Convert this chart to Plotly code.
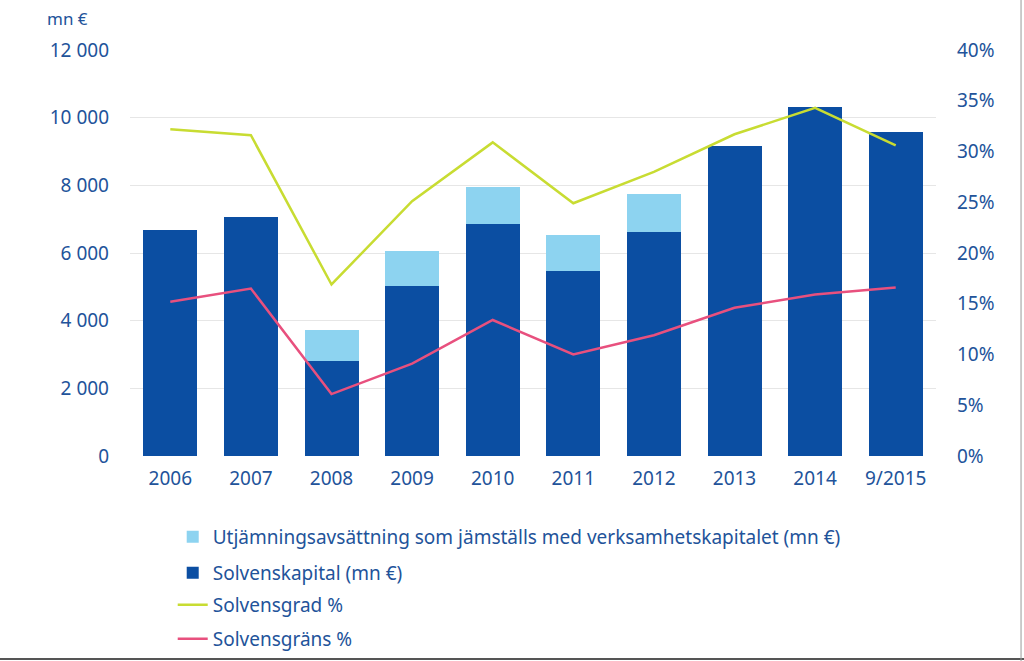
import plotly.graph_objects as go

categories = ["2006", "2007", "2008", "2009", "2010", "2011", "2012", "2013", "2014", "9/2015"]
solvenskapital = [6680, 7060, 2810, 5020, 6850, 5460, 6610, 9160, 10310, 9570]
utjamning = [0, 0, 910, 1030, 1090, 1070, 1130, 0, 0, 0]
solvensgrad = [32.2, 31.6, 16.9, 25.1, 30.9, 24.9, 28.0, 31.7, 34.3, 30.6]
solvensgrans = [15.2, 16.5, 6.1, 9.1, 13.4, 10.0, 11.9, 14.6, 15.9, 16.6]

left_ticks = [0, 2000, 4000, 6000, 8000, 10000, 12000]
left_labels = ["0", "2 000", "4 000", "6 000", "8 000", "10 000", "12 000"]
right_ticks = [0, 5, 10, 15, 20, 25, 30, 35, 40]
right_labels = [f"{v}%" for v in right_ticks]

TXT = "#22539A"
FONT = "Noto Sans"
FS = 19

fig = go.Figure()
fig.add_trace(go.Bar(x=categories, y=solvenskapital, name="Solvenskapital (mn €)",
                     marker=dict(color="#0B4EA2", line=dict(width=0)), legend="legend2"))
fig.add_trace(go.Bar(x=categories, y=utjamning,
                     name="Utjämningsavsättning som jämställs med verksamhetskapitalet (mn €)",
                     marker=dict(color="#8DD3F0", line=dict(width=0)), legend="legend"))
fig.add_trace(go.Scatter(x=categories, y=solvensgrad, name="Solvensgrad %", mode="lines",
                         line=dict(color="#C8DC32", width=2.5), yaxis="y2", legend="legend3"))
fig.add_trace(go.Scatter(x=categories, y=solvensgrans, name="Solvensgräns %", mode="lines",
                         line=dict(color="#E8507E", width=2.5), yaxis="y2", legend="legend4"))


def leg(y):
    return dict(orientation="v", xref="paper", x=0.053, xanchor="left",
                yref="container", y=y, yanchor="middle",
                font=dict(size=FS, color=TXT), bgcolor="rgba(0,0,0,0)", itemwidth=30)


fig.update_layout(
    width=1024, height=661,
    margin=dict(l=130, r=88, t=50, b=205),
    barmode="stack", bargap=0.33,
    plot_bgcolor="white", paper_bgcolor="white",
    font=dict(family=FONT, color=TXT, size=FS),
    xaxis=dict(type="category", showgrid=False, showline=False, ticks="",
               tickfont=dict(size=FS, color=TXT), ticklabelstandoff=9),
    yaxis=dict(range=[0, 12000], tickvals=left_ticks, ticktext=left_labels,
               showgrid=True, gridcolor="#E6E6E6", gridwidth=1, zeroline=False,
               showline=False, ticks="", tickfont=dict(size=FS, color=TXT), ticklabelstandoff=20),
    yaxis2=dict(range=[0, 40], tickvals=right_ticks, ticktext=right_labels, overlaying="y",
                side="right", showgrid=False, zeroline=False, showline=False, ticks="",
                tickfont=dict(size=FS, color=TXT), ticklabelstandoff=20),
    legend=leg(0.1876),
    legend2=leg(0.1331),
    legend3=leg(0.0847),
    legend4=leg(0.0333),
    showlegend=True,
    annotations=[dict(text="mn €", xref="paper", yref="paper", x=-0.078, y=1.0,
                      xanchor="center", yanchor="middle", yshift=32, showarrow=False,
                      font=dict(size=17, color=TXT))],
    shapes=[
        dict(type="line", xref="paper", yref="paper", x0=-0.17, x1=1.12, y0=-0.5, y1=-0.5,
             line=dict(color="#555555", width=2)),
        dict(type="line", xref="paper", yref="paper", x0=1.1055, x1=1.1055, y0=-0.51, y1=1.13,
             line=dict(color="#999999", width=1)),
    ],
)

fig.write_html("out.html", config={"displayModeBar": False},
               post_script="document.body.style.margin='0';")
